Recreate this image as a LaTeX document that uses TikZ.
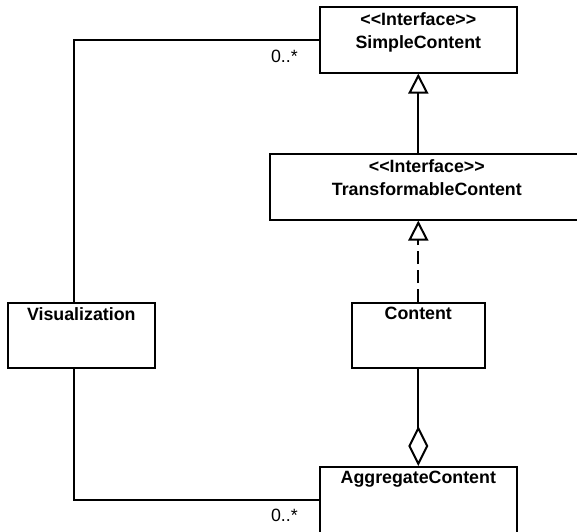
\documentclass[tikz,border=0pt]{standalone}
\usepackage{fontspec}
\setmainfont{Liberation Sans}
\usetikzlibrary{arrows.meta}
\newcommand{\stereo}[1]{<\kern0pt<#1>\kern0pt>}
\begin{document}
\begin{tikzpicture}[x=1pt,y=-1pt]
\tikzset{classe/.style={draw, line width=1.6pt, inner sep=0pt, anchor=north west},
titre/.style={font=\bfseries\fontsize{17.8}{23}\selectfont, align=center, anchor=north, inner sep=0pt},
mult/.style={font=\fontsize{17.8}{21}\selectfont, anchor=base east, inner sep=0pt},
lien/.style={line width=2pt}}
\useasboundingbox (0,0) rectangle (577,531);
\node[classe, minimum width=197, minimum height=66] (C1) at (319,6) {};
\node[classe, minimum width=314, minimum height=66] (C2) at (269,153) {};
\node[classe, minimum width=133, minimum height=65] (C3) at (351,302) {};
\node[classe, minimum width=147, minimum height=65] (C4) at (7,302) {};
\node[classe, minimum width=197, minimum height=66] (C5) at (319,466) {};
\node[titre] (T1) at ([yshift=-6pt]C1.north) {\stereo{Interface}\\SimpleContent};
\node[titre] (T2) at ([yshift=-6pt]C2.north) {\stereo{Interface}\\TransformableContent};
\node[titre] (T3) at ([yshift=-5pt]C3.north) {Content};
\node[titre] (T4) at ([yshift=-5pt]C4.north) {Visualization};
\node[titre] (T5) at ([yshift=-5pt]C5.north) {AggregateContent};
\node[mult] (M1) at (298,62) {0..*};
\node[mult] (M2) at (298,521) {0..*};
\draw[lien, -{Triangle[open, length=20pt, width=20pt]}] (C1.south |- C2.north) -- (C1.south);
\draw[lien, dash pattern=on 13pt off 6pt, -{Triangle[open, length=20pt, width=20pt]}] (C3.north) -- (C3.north |- C2.south);
\draw[lien, -{Diamond[open, length=40pt, width=20pt]}] (C3.south) -- (C5.north);
\draw[lien] ([xshift=-7.5pt]C4.north) |- (C1.west);
\draw[lien] ([xshift=-7.5pt]C4.south) |- (C5.west);
\end{tikzpicture}
\end{document}
